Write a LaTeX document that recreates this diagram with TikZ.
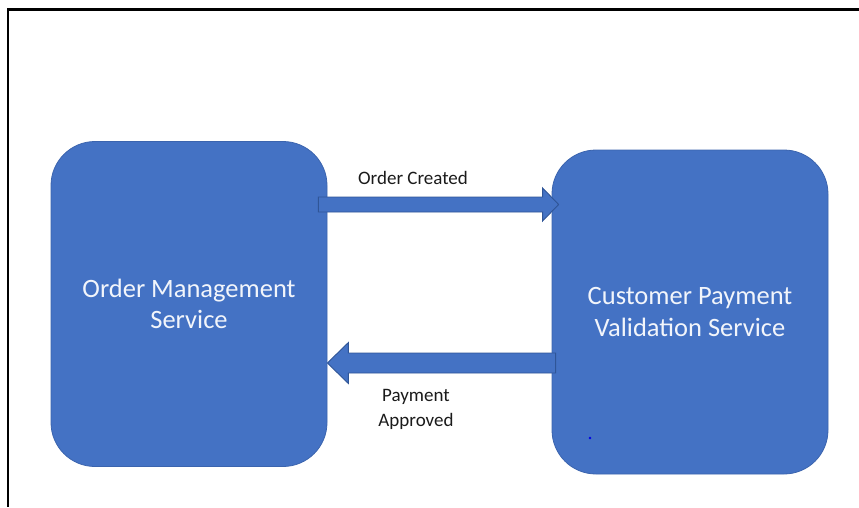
\documentclass[tikz,border=0pt]{standalone}
\usepackage{fontspec}
\setmainfont{Carlito}
\usetikzlibrary{calc}
\definecolor{boxblue}{HTML}{4472C4}
\definecolor{edgeblue}{HTML}{3B64AE}
\definecolor{arrowedge}{HTML}{2F5597}
\definecolor{boxtext}{HTML}{F2F5FB}
\definecolor{labeltext}{HTML}{1A1A1A}
\tikzset{
  svcbox/.style={draw=edgeblue, line width=0.8pt, fill=boxblue, rounded corners=44pt,
    minimum width=276pt, minimum height=325pt, text=boxtext, align=center,
    font=\fontsize{26.5}{31.5}\selectfont, inner sep=0pt},
  blockarrow/.style={draw=arrowedge, line width=0.9pt, fill=boxblue, line join=miter},
  msglabel/.style={text=labeltext, align=center, font=\fontsize{19}{25}\selectfont, inner sep=0pt},
  framerule/.style={draw=black, line width=2.6pt}
}
\begin{document}
\begin{tikzpicture}[x=1pt,y=-1pt]
\useasboundingbox (0,0) rectangle (859,507);
% frame (top and left rules)
\coordinate (ftl) at (8,9.5);
\coordinate (ftr) at (859,9.5);
\coordinate (fbl) at (8,507);
\draw[framerule] (ftr) -- (ftl) -- (fbl);
% service boxes
\node[svcbox] (om) at (189,304) {Order Management\\Service};
\node[svcbox, minimum height=324pt] (cp) at (690,312) {Customer Payment\\Validation Service};
% arrow 1: Order Created
\coordinate (a1s) at ($(om.east)+(-9,-99.5)$);
\coordinate (a1e) at ($(cp.west)+(7,-107.5)$);
\draw[blockarrow] ($(a1s)+(0,-7.5)$) -- ($(a1e)+(-16,-7.5)$) -- ($(a1e)+(-16,-16.5)$) -- (a1e)
  -- ($(a1e)+(-16,16.5)$) -- ($(a1e)+(-16,7.5)$) -- ($(a1s)+(0,7.5)$) -- cycle;
% arrow 2: Payment Approved
\coordinate (a2s) at ($(cp.west)+(4,51)$);
\coordinate (a2e) at ($(om.east)+(0,59)$);
\draw[blockarrow] ($(a2s)+(0,-10)$) -- ($(a2e)+(21,-10)$) -- ($(a2e)+(21,-20.5)$) -- (a2e)
  -- ($(a2e)+(21,20.5)$) -- ($(a2e)+(21,10)$) -- ($(a2s)+(0,10)$) -- cycle;
% labels
\node[msglabel] (l1) at (413,178) {Order Created};
\node[msglabel] (l2) at (416,409) {Payment\\Approved};
% small dot
\fill[blue!90!black] (590,438) circle (1.3pt);
\end{tikzpicture}
\end{document}
